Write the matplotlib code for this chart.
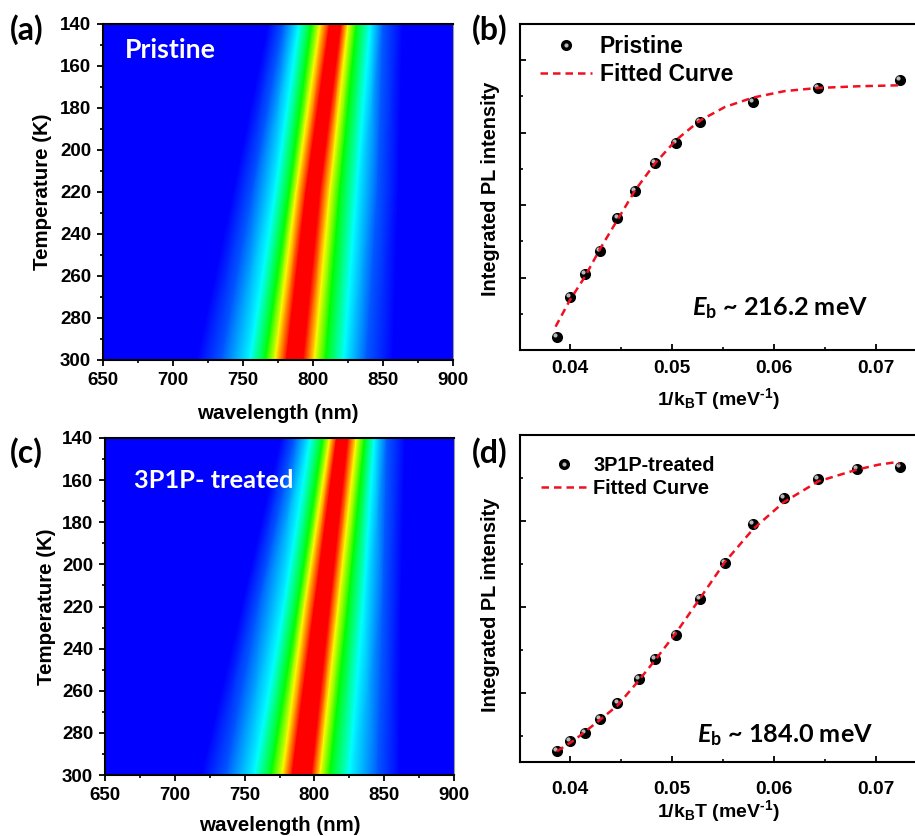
import numpy as np
import matplotlib
matplotlib.use('Agg')
from matplotlib import pyplot as plt
from matplotlib.colors import LinearSegmentedColormap
from matplotlib.legend_handler import HandlerTuple
from matplotlib.ticker import MultipleLocator, NullFormatter
from matplotlib.transforms import offset_copy

plt.rcParams['font.family'] = ['Liberation Sans', 'DejaVu Sans']
plt.rcParams['font.weight'] = 'bold'
plt.rcParams['axes.labelweight'] = 'bold'
plt.rcParams['mathtext.fontset'] = 'custom'
plt.rcParams['mathtext.rm'] = 'Liberation Sans:bold'
plt.rcParams['mathtext.it'] = 'Lato:italic:bold'
plt.rcParams['mathtext.bf'] = 'Lato:bold'

W, H = 915, 836

# heat maps: wavelength of each colour band at three temperatures
band_temps = [140, 220, 300]
band_level = [0, 0, 0.12, 0.33, 0.55, 0.75, 0.9, 1.0, 0.9, 0.75, 0.55, 0.33, 0.12, 0, 0]

a_wl_140 = [650, 768, 779, 790, 799, 805, 812, 816, 820, 825, 831, 841, 850, 864, 900]
a_wl_220 = [650, 743, 757, 773, 783, 788, 795, 799, 805, 812, 819, 831, 846, 861, 900]
a_wl_300 = [650, 717, 735, 755, 766, 773, 781, 787, 793, 801, 809, 822, 838, 857, 900]

c_wl_140 = [650, 776, 786, 797, 806, 811, 816, 820, 824, 830, 836, 843, 852, 865, 900]
c_wl_220 = [650, 748, 760, 778, 788, 793, 800, 805, 811, 817, 824, 835, 849, 862, 900]
c_wl_300 = [650, 719, 737, 757, 769, 777, 784, 791, 798, 804, 811, 825, 845, 861, 900]

# (b) pristine
b_x = [0.03872, 0.0400, 0.04147, 0.04298, 0.04465, 0.04641, 0.04834, 0.0504, 0.05272, 0.05796, 0.06437, 0.07238]
b_y = [0.182, 0.729, 1.046, 1.363, 1.822, 2.194, 2.589, 2.856, 3.145, 3.430, 3.618, 3.733]
b_fit_x = [0.03859, 0.0400, 0.04147, 0.04298, 0.04465, 0.04641, 0.04834, 0.0504, 0.05272, 0.05521, 0.05796, 0.0611, 0.06437, 0.0683, 0.07255]
b_fit_y = [0.325, 0.692, 1.014, 1.404, 1.795, 2.208, 2.576, 2.897, 3.165, 3.355, 3.485, 3.575, 3.618, 3.641, 3.655]

# (d) 3P1P-treated
d_x = [0.03872, 0.0400, 0.04147, 0.04298, 0.04465, 0.04677, 0.04834, 0.0504, 0.05272, 0.05521, 0.05796, 0.06097, 0.06437, 0.06816, 0.07238]
d_y = [0.323, 0.443, 0.532, 0.698, 0.884, 1.162, 1.395, 1.677, 2.091, 2.513, 2.961, 3.267, 3.487, 3.604, 3.619]
d_fit_x = [0.03872, 0.04049, 0.04298, 0.04465, 0.04677, 0.04834, 0.0504, 0.05272, 0.05521, 0.05796, 0.06097, 0.06437, 0.06816, 0.0703, 0.07193, 0.07238]
d_fit_y = [0.323, 0.458, 0.691, 0.853, 1.147, 1.379, 1.696, 2.090, 2.520, 2.900, 3.213, 3.456, 3.592, 3.650, 3.677, 3.66]

temp_ticks = np.arange(140, 301, 20)
wl_ticks = np.arange(650, 901, 50)
k_ticks = [0.04, 0.05, 0.06, 0.07]

band_cmap = LinearSegmentedColormap.from_list('band', [
    (0, '#0000ff'), (0.33, '#00ffff'), (0.55, '#00ff00'),
    (0.75, '#ffff00'), (0.9, '#ff0000'), (1, '#ff0000')])


def add_axes(left, top, right, bottom):
    return fig.add_axes([left / W, 1 - bottom / H, (right - left) / W, (bottom - top) / H])


def style_spines(ax):
    for s in ax.spines.values():
        s.set_linewidth(1.5)


def heat_panel(box, rows, label, label_size, label_xy, ylab_x, xlabel_pad):
    ax = add_axes(*box)
    wl = np.array(rows, dtype=float)
    temps = np.repeat(np.array(band_temps, dtype=float)[:, None], wl.shape[1], axis=1)
    levels = np.tile(band_level, (len(band_temps), 1))
    ax.pcolormesh(wl, temps, levels, shading='gouraud', cmap=band_cmap, vmin=0, vmax=1)
    ax.set_xlim(650, 900)
    ax.set_ylim(300, 140)
    ax.set_xticks(wl_ticks)
    ax.set_yticks(temp_ticks)
    ax.xaxis.set_minor_locator(MultipleLocator(25))
    ax.yaxis.set_minor_locator(MultipleLocator(10))
    ax.tick_params(which='major', length=4.5, width=1.3, labelsize=13.5, pad=4)
    ax.tick_params(which='minor', length=2.5, width=1.2)
    style_spines(ax)
    ax.spines['right'].set_linewidth(0.8)
    ax.spines['right'].set_color('#9a9a9a')
    ax.set_xlabel('wavelength (nm)', fontsize=14.8, labelpad=xlabel_pad)
    ax.set_ylabel('Temperature (K)', fontsize=14.8)
    ax.yaxis.set_label_coords(ylab_x, 0.5)
    ax.text(label_xy[0] / W, 1 - label_xy[1] / H, label, transform=fig.transFigure, color='white',
            fontsize=label_size, family='Lato', weight='bold', va='center')
    return ax


def pl_panel(box, ylim, x, y, fit_x, fit_y, name, ypos, legend_xy, legend_size, legend_hl, note, note_xy,
             tick_pad, xlabel_pad):
    ax = add_axes(*box)
    dot, = ax.plot(x, y, 'o', color='black', ms=8, mew=0, zorder=3)
    shine = offset_copy(ax.transData, fig=fig, x=-1.3, y=1.4, units='points')
    glint, = ax.plot(x, y, 'o', color='#b8b8b8', ms=3, mew=0, transform=shine, zorder=4)
    fit, = ax.plot(fit_x, fit_y, color='#f01020', lw=1.8, ls=(0, (3, 2)), zorder=5)
    ax.set_xlim(0.0351, 0.0351 + (box[2] - box[0]) / 10190)
    ax.set_ylim(*ylim)
    ax.set_xticks(k_ticks)
    ax.xaxis.set_minor_locator(MultipleLocator(0.005))
    ax.yaxis.set_major_locator(MultipleLocator(1))
    ax.yaxis.set_minor_locator(MultipleLocator(0.5))
    ax.yaxis.set_major_formatter(NullFormatter())
    ax.tick_params(which='major', direction='in', length=4.5, width=1.3, labelsize=13.8, pad=tick_pad)
    ax.tick_params(which='minor', direction='in', length=2.5, width=1.2)
    style_spines(ax)
    ax.set_xlabel(r'1/k$_{\mathrm{B}}$T (meV$^{\text{-1}}$)', fontsize=14, labelpad=xlabel_pad)
    ax.set_ylabel('Integrated PL intensity', fontsize=14.3)
    ax.yaxis.set_label_coords(-0.05, ypos)
    ax.legend([(dot, glint), fit], [name, 'Fitted Curve'],
              handler_map={tuple: HandlerTuple(ndivide=1, pad=0)},
              loc='upper left', bbox_to_anchor=((legend_xy[0] - box[0]) / (box[2] - box[0]),
                                                1 - (legend_xy[1] - box[1]) / (box[3] - box[1])),
              frameon=False, fontsize=legend_size, handlelength=legend_hl, handletextpad=0.33,
              labelspacing=0.2, borderpad=0, borderaxespad=0)
    ax.text(note_xy[0] / W, 1 - note_xy[1] / H, note, transform=fig.transFigure,
            fontsize=18.2, family='Lato', weight='bold', va='center')
    return ax


fig = plt.figure(figsize=(W / 100, H / 100), dpi=100)

heat_panel((103, 24, 453, 360), [a_wl_140, a_wl_220, a_wl_300], 'Pristine', 19.2, (125, 50), -0.146, 11)
heat_panel((105, 438, 454, 775), [c_wl_140, c_wl_220, c_wl_300], '3P1P- treated', 18.3, (134, 481), -0.14, 8.5)

pl_panel((520, 24, 917, 350), (0.003, 4.5), b_x, b_y, b_fit_x, b_fit_y, 'Pristine', 0.495,
         (540, 35), 16.5, 2.27, r'$\mathit{E}_{\mathbf{b}}$ ~ 216.2 meV', (692, 308), 7, 7)
pl_panel((520, 435, 917, 762), (0.199, 3.994), d_x, d_y, d_fit_x, d_fit_y, '3P1P-treated', 0.48,
         (541, 456), 14.3, 2.3, r'$\mathit{E}_{\mathbf{b}}$ ~ 184.0 meV', (697, 735), 14, 0)

for lab, x, y in [('(a)', 10, 30), ('(b)', 472, 30), ('(c)', 10, 453), ('(d)', 472, 453)]:
    fig.text(x / W, 1 - y / H, lab, fontsize=23, family='Lato', weight='bold', va='center')

fig.savefig('out.png', dpi=100)
